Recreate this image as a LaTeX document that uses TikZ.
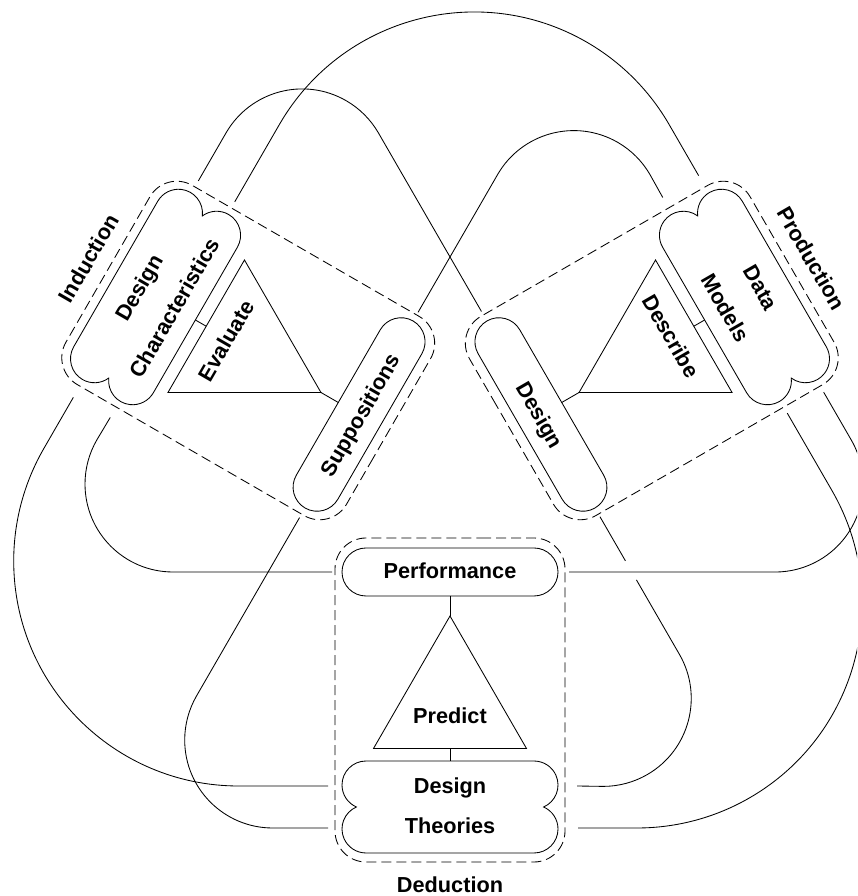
\documentclass[tikz,border=0pt]{standalone}
\usepackage{fontspec}
\setmainfont{Liberation Sans}
\tikzset{
  ln/.style={line width=0.85pt, black},
  dbox/.style={line width=0.85pt, black, dash pattern=on 10pt off 5pt, rounded corners=31pt},
  lbl/.style={font=\fontsize{21.7pt}{26pt}\selectfont\bfseries, inner sep=0pt, text height=15.5pt, text depth=0pt},
}
% #1 prefix, #2 rotation, #3 text rotation, #4 pill text, #5 triangle text,
% #6 triangle text position, #7 inner cloud line, #8 outer cloud line, #9 label
\newcommand\mycluster[9]{%
\begin{scope}[shift={(450,429)}, rotate=#2]
  \draw[ln] (-84,-81) -- (84,-81) arc[start angle=90,end angle=-90,radius=24]
     -- (-84,-129) arc[start angle=270,end angle=90,radius=24] -- cycle;
  \draw[ln] (0,-149) -- (76.5,-281.5) -- (-76.5,-281.5) -- cycle;
  \draw[ln] (0,-129) -- (0,-149);
  \draw[ln] (0,-281.5) -- (0,-294);
  \draw[ln] (-84,-294) arc[start angle=90,end angle=246.4,radius=24]
     arc[start angle=113.6,end angle=270,radius=24] -- (84,-386)
     arc[start angle=-90,end angle=66.4,radius=24]
     arc[start angle=-66.4,end angle=90,radius=24] -- cycle;
  \draw[dbox] (0,-71) -- (115,-71) -- (115,-395) -- (-115,-395) -- (-115,-71) -- cycle;
  \coordinate (#1-a1) at (-118,-105);
  \coordinate (#1-a2) at (119,-105);
  \coordinate (#1-a3) at (-122,-319);
  \coordinate (#1-a4) at (127,-319);
  \coordinate (#1-a5) at (-122,-361);
  \coordinate (#1-a6) at (128,-361);
  \node[lbl, rotate=#3] (#1-pill) at (0,-104) {#4};
  \node[lbl, rotate=#3] (#1-tri) at (#6) {#5};
  \node[lbl, rotate=#3] (#1-in) at (0,-318.3) {#7};
  \node[lbl, rotate=#3] (#1-out) at (0,-359) {#8};
  \node[lbl, rotate=#3] (#1-lab) at (0,-417.3) {#9};
\end{scope}}
% #1 this cluster, #2 rotation, #3 previous cluster, #4 first leg of the first link
\newcommand\mylinks[4]{%
\begin{scope}[shift={(450,429)}, rotate=#2]
  \draw[ln] (#1-a1) #4 arc[start angle=270,end angle=150,radius=88] -- (#3-a4);
  \draw[ln] (#1-a3) -- ++(-89.3,0) arc[start angle=270,end angle=150,radius=225] -- (#3-a6);
  \draw[ln] (#1-a5) -- ++(-55.3,0) arc[start angle=270,end angle=150,radius=88] -- (#3-a2);
\end{scope}}
\begin{document}
\begin{tikzpicture}[x=1pt,y=1pt]
\useasboundingbox (0,0) rectangle (857,896);
\fill[white] (0,0) rectangle (857,896);
\clip (0,0) rectangle (857,896);
\mycluster{D}{0}{0}{Performance}{Predict}{0,-248.3}{Design}{Theories}{Deduction}
\mycluster{L}{-120}{60}{Suppositions}{Evaluate}{2.5,-257}{Characteristics}{Design}{Induction}
\mycluster{R}{120}{-60}{Design}{Describe}{2.5,-257}{Models}{Data}{Production}
\mylinks{D}{0}{L}{-- ++(-159,0)}
\mylinks{R}{120}{D}{-- ++(-51,0) ++(-22,0) -- ++(-86,0)}
\mylinks{L}{-120}{R}{-- ++(-159,0)}
\end{tikzpicture}
\end{document}
